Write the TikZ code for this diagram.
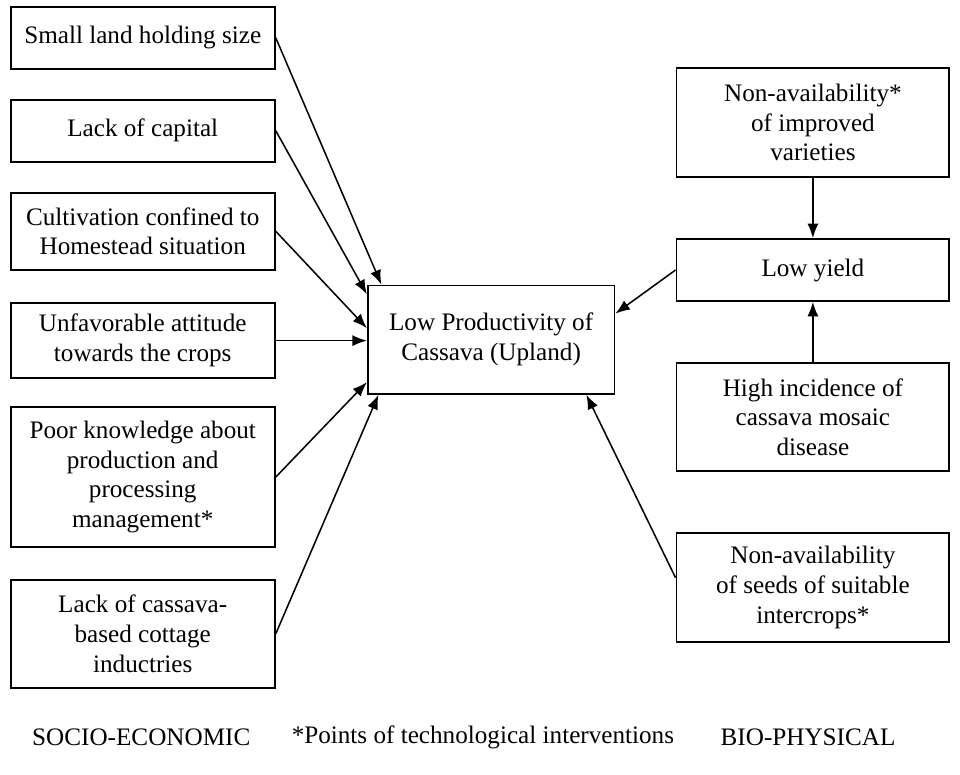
\documentclass[tikz,border=0pt]{standalone}
\usepackage{fontspec}
\setmainfont{Liberation Serif}
\usepackage{tikz}
\usetikzlibrary{arrows.meta,calc}

\tikzset{
  cause/.style={draw, line width=1.1pt, align=center, inner sep=2pt,
    font=\fontsize{14.8}{17.5}\selectfont},
  leftbox/.style={cause, minimum width=5.46cm},
  rightbox/.style={cause, minimum width=5.64cm},
  link/.style={line width=0.9pt, -{Latex[length=8.5pt,width=6.5pt]}},
  caption/.style={font=\fontsize{14.8}{17.5}\selectfont}
}

\begin{document}
\begin{tikzpicture}[x=0.02cm, y=-0.02cm]
  \useasboundingbox (0,0) rectangle (992,800);

  % Socio-economic causes
  \node[leftbox, minimum height=1.28cm] (small) at (147.5,39) {Small land holding size};
  \node[leftbox, minimum height=1.28cm] (capital) at (147.5,135) {Lack of capital};
  \node[leftbox, minimum height=1.6cm] (homestead) at (147.5,239) {Cultivation confined to\\Homestead situation};
  \node[leftbox, minimum height=1.56cm] (attitude) at (147.5,352) {Unfavorable attitude\\towards the crops};
  \node[leftbox, minimum height=2.88cm] (knowledge) at (147.5,493) {Poor knowledge about\\production and\\processing\\management*};
  \node[leftbox, minimum height=2.24cm] (cottage) at (147.5,655) {Lack of cassava-\\based cottage\\inductries};

  % Central problem
  \node[cause, minimum width=5.1cm, minimum height=2.24cm] (prod) at (507.5,351) {Low Productivity of\\Cassava (Upland)};

  % Bio-physical causes
  \node[rightbox, minimum height=2.26cm] (varieties) at (840,126.5) {Non-availability*\\of improved\\varieties};
  \node[rightbox, minimum height=1.28cm] (yield) at (840,279) {Low yield};
  \node[rightbox, minimum height=2.24cm] (mosaic) at (840,431) {High incidence of\\cassava mosaic\\disease};
  \node[rightbox, minimum height=2.24cm] (intercrops) at (840,607) {Non-availability\\of seeds of suitable\\intercrops*};

  % Arrows into the central box
  \draw[link] (small.east) -- ($(prod.north west)+(15,0)$);
  \draw[link] (capital.east) -- ($(prod.north west)+(0,10)$);
  \draw[link] (homestead.east) -- ($(prod.north west)+(0,45)$);
  \draw[link] (attitude.east) -- (attitude.east -| prod.west);
  \draw[link] (knowledge.east) -- ($(prod.south west)+(0,-13)$);
  \draw[link] (cottage.east) -- ($(prod.south west)+(12,0)$);
  \draw[link] (yield.west) -- ($(prod.north east)+(0,30)$);
  \draw[link] ($(intercrops.west)+(0,-10)$) -- ($(prod.south east)+(-30,0)$);

  % Right column
  \draw[link] (varieties.south) -- (yield.north);
  \draw[link] (mosaic.north) -- (yield.south);

  % Captions
  \node[caption] (socio) at (146,762) {SOCIO-ECONOMIC};
  \node[caption] (note) at (499,762) {*Points of technological interventions};
  \node[caption] (bio) at (835,762) {BIO-PHYSICAL};
\end{tikzpicture}
\end{document}
